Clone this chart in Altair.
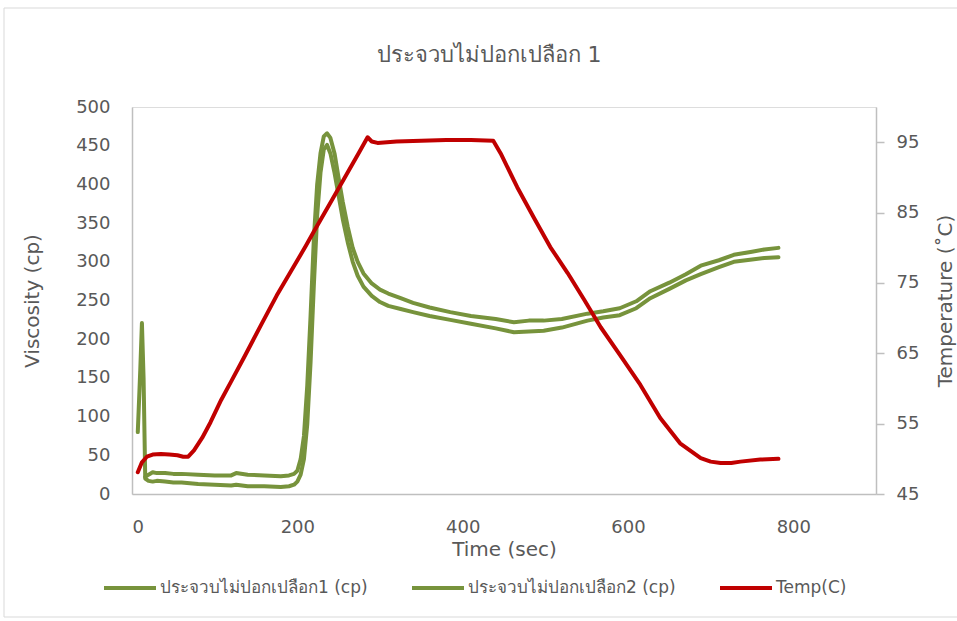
import altair as alt
import pandas as pd

# ---- data ----
series_names = ["ประจวบไม่ปอกเปลือก1 (cp)", "ประจวบไม่ปอกเปลือก2 (cp)", "Temp(C)"]

t_visc1 = [7, 10, 12, 14, 16, 20, 25, 30, 40, 50, 60, 80, 100, 120, 126, 140, 160, 180, 190, 196,
           200, 204, 208, 212, 216, 220, 224, 228, 232, 236, 240, 245, 250, 255, 261, 267, 273, 280,
           290, 300, 310, 325, 340, 360, 385, 410, 440, 462, 480, 498, 520, 551, 570, 590, 610, 627,
           650, 670, 688, 710, 728, 750, 765, 782]
visc1 = [80, 160, 221, 150, 20, 17, 16, 17, 16, 15, 15, 13, 12, 11, 12, 10, 10, 9, 10, 12,
         16, 25, 45, 90, 170, 270, 360, 415, 445, 451, 440, 415, 385, 355, 325, 300, 282, 268,
         256, 248, 243, 239, 235, 230, 225, 220, 214, 209, 210, 211, 215, 224, 228, 231, 240, 253,
         265, 276, 284, 293, 300, 303, 305, 306]

t_visc2 = [16, 20, 25, 30, 40, 50, 60, 80, 100, 120, 126, 140, 160, 180, 190, 196, 200, 204, 208,
           212, 216, 220, 224, 228, 232, 236, 240, 245, 250, 255, 261, 267, 273, 280, 290, 300, 310,
           325, 340, 360, 385, 410, 440, 462, 480, 498, 520, 551, 570, 590, 610, 627, 650, 670, 688,
           710, 728, 750, 765, 782]
visc2 = [22, 25, 28, 27, 27, 26, 26, 25, 24, 24, 27, 25, 24, 23, 24, 26, 30, 45, 75,
         140, 230, 330, 400, 440, 462, 466, 460, 440, 408, 377, 345, 318, 300, 285, 272, 264, 259,
         253, 247, 241, 235, 230, 226, 222, 224, 224, 226, 233, 236, 240, 249, 262, 273, 284, 295,
         302, 309, 313, 316, 318]

t_temp = [7, 12, 18, 25, 35, 45, 55, 62, 68, 75, 85, 95, 108, 120, 135, 156, 175, 196, 210, 220,
          240, 260, 275, 285, 290, 297, 320, 350, 380, 410, 437, 446, 466, 486, 506, 527, 547, 567,
          590, 615, 639, 663, 688, 700, 712, 725, 736, 760, 782]
temp = [48.1, 49.5, 50.3, 50.6, 50.7, 50.6, 50.5, 50.3, 50.3, 51.2, 53.0, 55.2, 58.4, 61.0, 64.3,
        69.0, 73.2, 77.4, 80.2, 82.3, 86.4, 90.5, 93.6, 95.7, 95.1, 94.9, 95.1, 95.2, 95.3, 95.3,
        95.2, 93.4, 88.6, 84.3, 80.1, 76.4, 72.6, 68.7, 64.8, 60.5, 55.8, 52.2, 50.1, 49.6, 49.4,
        49.4, 49.6, 49.9, 50.0]

x_ticks = [0, 200, 400, 600, 800]
visc_ticks = [0, 50, 100, 150, 200, 250, 300, 350, 400, 450, 500]
temp_ticks = [45, 55, 65, 75, 85, 95]

GREEN = "#77933C"
RED = "#C00000"
GREY_TXT = "#595959"
GREY_LINE = "#BFBFBF"
FONT = "DejaVu Sans"

df_visc = pd.concat([
    pd.DataFrame({"t": t_visc1, "v": visc1, "series": series_names[0]}),
    pd.DataFrame({"t": t_visc2, "v": visc2, "series": series_names[1]}),
])
df_temp = pd.DataFrame({"t": t_temp, "temp": temp, "series": series_names[2]})

color_scale = alt.Scale(domain=series_names, range=[GREEN, GREEN, RED])
legend = alt.Legend(
    title=None, orient="none", legendX=-30, legendY=453, direction="horizontal",
    columns=3, gridAlign="all", symbolType="stroke", symbolSize=2704, symbolStrokeWidth=4,
    labelFontSize=17, labelColor=GREY_TXT, labelFont=FONT, labelLimit=400,
    columnPadding=36, labelOffset=2, padding=0,
)

x_enc = alt.X(
    "t:Q",
    scale=alt.Scale(domain=[0, 900], nice=False, zero=False),
    axis=alt.Axis(
        values=x_ticks, title="Time (sec)", ticks=False, grid=False,
        domainColor=GREY_LINE, domainWidth=1.5, labelColor=GREY_TXT, labelFontSize=18,
        labelPadding=24, titleFontSize=20, titleColor=GREY_TXT, titleFontWeight="normal",
        titlePadding=3, labelFont=FONT, titleFont=FONT,
    ),
)

visc_layer = alt.Chart(df_visc).mark_line(strokeWidth=4, strokeJoin="round", strokeCap="round").encode(
    x=x_enc,
    y=alt.Y(
        "v:Q",
        scale=alt.Scale(domain=[0, 500], nice=False),
        axis=alt.Axis(
            values=visc_ticks, title="Viscosity (cp)", ticks=False, grid=False,
            domainColor=GREY_LINE, domainWidth=1.5, labelColor=GREY_TXT, labelFontSize=18,
            labelPadding=22, titleFontSize=20, titleColor=GREY_TXT, titleFontWeight="normal",
            titlePadding=33, labelFont=FONT, titleFont=FONT,
        ),
    ),
    color=alt.Color("series:N", scale=color_scale, legend=legend, sort=series_names),
)

temp_layer = alt.Chart(df_temp).mark_line(strokeWidth=4, strokeJoin="round", strokeCap="round").encode(
    x=x_enc,
    y=alt.Y(
        "temp:Q",
        scale=alt.Scale(domain=[45, 100], nice=False, zero=False),
        axis=alt.Axis(
            orient="right", values=temp_ticks, title="Temperature (˚C)", ticks=True,
            tickSize=8, tickColor=GREY_LINE, tickWidth=1.5, grid=False,
            domainColor=GREY_LINE, domainWidth=1.5, labelColor=GREY_TXT, labelFontSize=18,
            labelPadding=12, titleFontSize=20, titleColor=GREY_TXT, titleFontWeight="normal",
            titleAngle=270, titlePadding=37, labelFont=FONT, titleFont=FONT,
        ),
    ),
    color=alt.Color("series:N", scale=color_scale, legend=legend, sort=series_names),
)

border = alt.Chart(pd.DataFrame({"k": [0]})).mark_rect(
    fill="white", fillOpacity=0, stroke="#D9D9D9", strokeWidth=1
).encode(
    x=alt.value(-128), x2=alt.value(832), y=alt.value(-99), y2=alt.value(510)
)

chart = alt.layer(border, visc_layer, temp_layer).resolve_scale(
    y="independent"
).properties(
    width=744,
    height=387,
    padding={"left": 132, "top": 107, "right": 81, "bottom": 127},
    autosize=alt.AutoSizeParams(type="none"),
    title=alt.TitleParams(
        "ประจวบไม่ปอกเปลือก 1", fontSize=22, font=FONT, color=GREY_TXT,
        fontWeight="normal", anchor="middle", offset=-59, dx=-15,
    ),
).configure_view(stroke=None).configure(background="white")

chart.save("out.html", embed_options={"renderer": "svg", "actions": False})
